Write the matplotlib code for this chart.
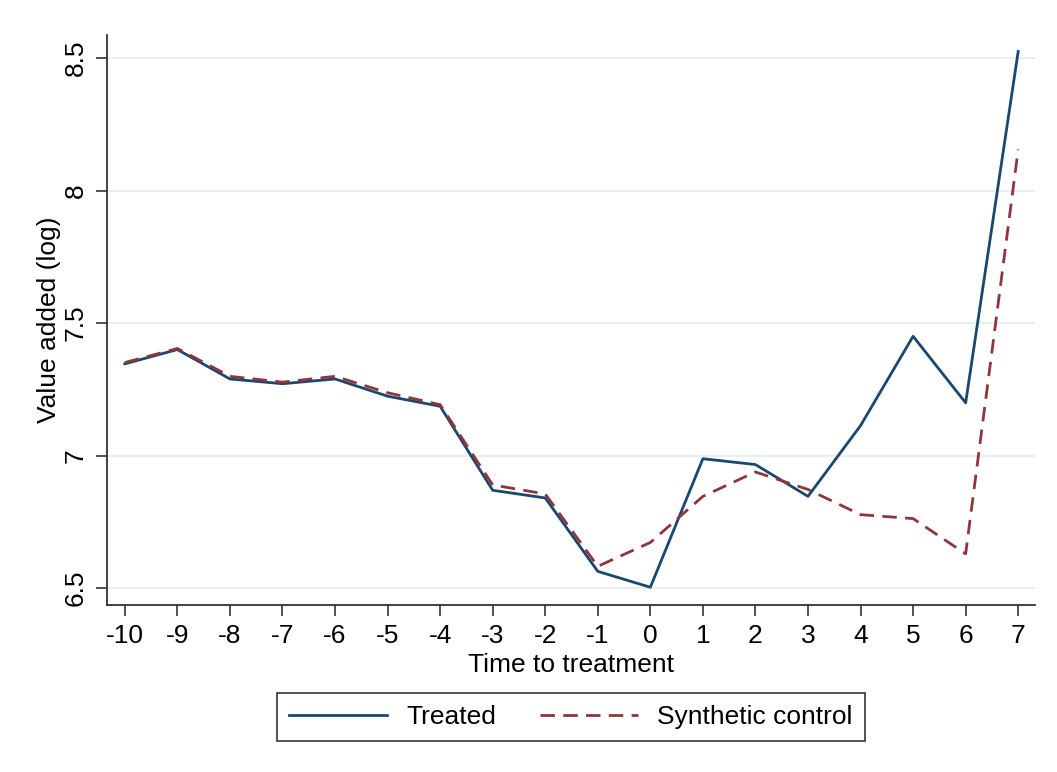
import matplotlib
matplotlib.use("Agg")
import matplotlib.pyplot as plt
import numpy as np

plt.rcParams['font.family'] = ['Liberation Sans', 'DejaVu Sans']

# time to treatment
t = list(range(-10, 8))

treated = [7.346, 7.400, 7.289, 7.271, 7.289, 7.224, 7.186, 6.869, 6.840,
           6.563, 6.503, 6.988, 6.966, 6.846, 7.113, 7.450, 7.199, 8.525]
synthetic = [7.351, 7.404, 7.299, 7.277, 7.299, 7.237, 7.192, 6.889, 6.855,
             6.582, 6.672, 6.846, 6.938, 6.872, 6.777, 6.762, 6.629, 8.155]

yticks = [6.5, 7, 7.5, 8, 8.5]
ytick_labels = ["6.5", "7", "7.5", "8", "8.5"]

navy = "#1a476f"
maroon = "#90353b"
fs = 19

fig = plt.figure(figsize=(10.57, 7.72), dpi=100)
ax = fig.add_axes([0.1012, 0.2163, 0.878, 0.7384])

ax.plot(t, treated, color=navy, lw=2, label="Treated")
ax.plot(t, synthetic, color=maroon, lw=2, ls=(0, (5.2, 3.0)), label="Synthetic control")

ax.set_xlim(-10.34, 7.32)
ax.set_ylim(6.436, 8.587)
ax.set_xticks(t)
ax.set_xticklabels([str(v) for v in t], fontsize=fs)
ax.set_yticks(yticks)
ax.set_yticklabels(ytick_labels, fontsize=fs, rotation=90, va="center")
ax.tick_params(length=8, width=1.2, color="#333333", pad=6)

ax.grid(axis="y", color="#e8eff2", lw=1.5)
ax.set_axisbelow(True)
for s in ["top", "right"]:
    ax.spines[s].set_visible(False)
for s in ["left", "bottom"]:
    ax.spines[s].set_linewidth(1.3)
    ax.spines[s].set_color("#333333")

ax.set_xlabel("Time to treatment", fontsize=fs, labelpad=3)
ax.set_ylabel("Value added (log)", fontsize=fs, labelpad=2)

leg = fig.legend(loc="center", bbox_to_anchor=(571 / 1057, 1 - 717 / 772), ncol=2,
                 fontsize=fs, frameon=True, fancybox=False, handlelength=3.7,
                 handletextpad=0.75, columnspacing=1.65, borderpad=0.45,
                 edgecolor="black")
leg.get_frame().set_linewidth(1.2)

fig.savefig("out.png", dpi=100, facecolor="white")
